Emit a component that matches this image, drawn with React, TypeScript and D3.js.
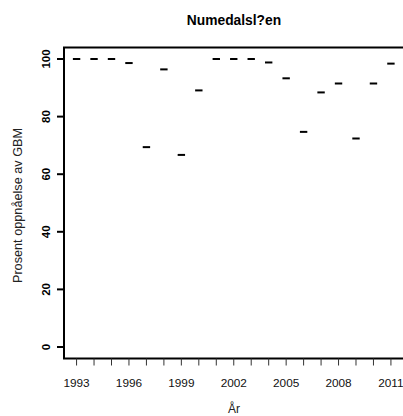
import React, { useEffect, useRef } from 'react';
import * as d3 from 'd3';

// values
const years = [1993, 1994, 1995, 1996, 1997, 1998, 1999, 2000, 2001, 2002,
  2003, 2004, 2005, 2006, 2007, 2008, 2009, 2010, 2011];
const percent = [100, 100, 100, 98.6, 69.4, 96.4, 66.7, 89.1, 100, 100,
  100, 98.8, 93.3, 74.7, 88.4, 91.5, 72.4, 91.5, 98.4];
const yearLabels = [1993, 1996, 1999, 2002, 2005, 2008, 2011];
const yTicks = [0, 20, 40, 60, 80, 100];

const W = 403, H = 416;
const FONT = '"Liberation Sans", Arial, sans-serif';

const App = () => {
  const ref = useRef<SVGSVGElement>(null);

  useEffect(() => {
    const svg = d3.select(ref.current);
    svg.selectAll('*').remove();

    var left = 64, right = 403.5, top = 47.5, bottom = 358.5;

    var x = d3.scaleLinear().domain([1992.28, 2011.72]).range([left, right]);
    var y = d3.scaleLinear().domain([-4, 104]).range([bottom, top]);

    // box (right edge runs off the picture, as in the original)
    svg.append('rect')
      .attr('x', left).attr('y', top)
      .attr('width', right + 4 - left).attr('height', bottom - top)
      .attr('fill', 'none').attr('stroke', '#000').attr('stroke-width', 2);

    // y axis ticks + labels
    var yg = svg.append('g');
    yg.selectAll('line').data(yTicks).enter().append('line')
      .attr('x1', left - 7).attr('x2', left)
      .attr('y1', d => y(d)).attr('y2', d => y(d))
      .attr('stroke', '#000').attr('stroke-width', 2);
    yg.selectAll('text').data(yTicks).enter().append('text')
      .attr('transform', d => 'translate(49.5,' + y(d) + ') rotate(-90)')
      .attr('text-anchor', 'middle')
      .attr('font-family', FONT).attr('font-size', 11.5)
      .attr('font-weight', 'bold')
      .text(d => d);

    // x axis ticks (every year) + labels every third
    var xg = svg.append('g');
    xg.selectAll('line').data(years).enter().append('line')
      .attr('x1', d => x(d)).attr('x2', d => x(d))
      .attr('y1', bottom).attr('y2', bottom + 7)
      .attr('stroke', '#333').attr('stroke-width', 1);
    xg.selectAll('text').data(yearLabels).enter().append('text')
      .attr('x', d => x(d)).attr('y', 386.5)
      .attr('text-anchor', 'middle')
      .attr('font-family', FONT).attr('font-size', 11.8)
      .attr('fill', '#111')
      .text(d => d);

    // points drawn as short dashes
    svg.selectAll('.pt').data(years).enter().append('line')
      .attr('class', 'pt')
      .attr('x1', d => x(d) - 3.7).attr('x2', d => x(d) + 3.7)
      .attr('y1', (d, i) => y(percent[i])).attr('y2', (d, i) => y(percent[i]))
      .attr('stroke', '#000').attr('stroke-width', 2);

    // titles
    svg.append('text')
      .attr('x', 234).attr('y', 25)
      .attr('text-anchor', 'middle')
      .attr('font-family', FONT).attr('font-size', 13.8).attr('font-weight', 'bold')
      .text('Numedalsl?en');

    svg.append('text')
      .attr('x', 234).attr('y', 413)
      .attr('text-anchor', 'middle')
      .attr('font-family', FONT).attr('font-size', 12)
      .attr('fill', '#222')
      .text('År');

    svg.append('text')
      .attr('transform', 'translate(21.5,205.5) rotate(-90)')
      .attr('text-anchor', 'middle')
      .attr('font-family', FONT).attr('font-size', 12.7)
      .attr('fill', '#222')
      .text('Prosent oppnåelse av GBM');
  }, []);

  return (
    <svg ref={ref} width={W} height={H}
      style={{ position: 'absolute', left: 0, top: 0, background: '#fff' }} />
  );
};

export default App;
